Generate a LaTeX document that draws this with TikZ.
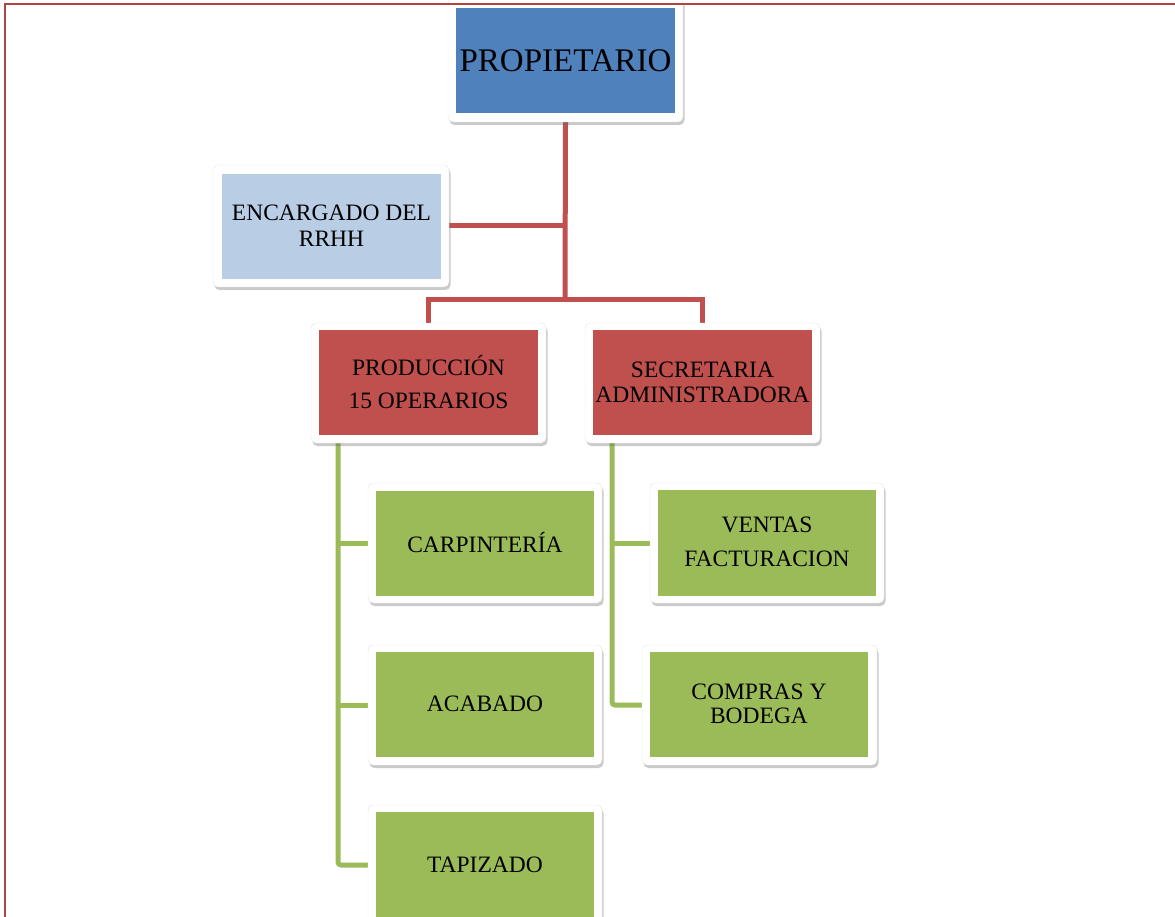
\documentclass[tikz,border=0pt]{standalone}
\usepackage{fontspec}
\setmainfont{Liberation Serif}
\usetikzlibrary{fit,shadows}
\definecolor{bluef}{RGB}{79,129,189}
\definecolor{lbluef}{RGB}{185,205,229}
\definecolor{redf}{RGB}{192,80,77}
\definecolor{greenf}{RGB}{155,187,89}
\definecolor{pageborder}{RGB}{176,68,68}
\tikzset{
  frame/.style={fill=white, draw=black!10, line width=0.4pt, rounded corners=5pt, inner sep=0pt,
    drop shadow={shadow xshift=1.5pt, shadow yshift=-3pt, opacity=0.35, fill=black!60}},
  inbox/.style={inner sep=0pt, draw=none},
  lbl/.style={align=center, text=black, inner sep=0pt},
  redline/.style={draw=redf, line width=5pt},
  greenline/.style={draw=greenf, line width=5pt}
}
\begin{document}
\begin{tikzpicture}[x=1pt,y=-1pt]
\useasboundingbox (0,0) rectangle (1175,917);
\clip (0,0) rectangle (1175,917);
% coordinates for connector routes
\coordinate (bar) at (565,300);
\coordinate (pl) at (338,0);
\coordinate (sl) at (612,0);
% invisible placeholders for node anchors (frames)
\path (448,-2) coordinate (propA) (683,122) coordinate (propB);
% connectors first (frames cover their ends)
\node[inner sep=0pt, fit={(propA)(propB)}] (prop) {};
\node[inner sep=0pt, fit={(213,165)(449,287)}] (enc) {};
\node[inner sep=0pt, fit={(311,323)(546,443)}] (prod) {};
\node[inner sep=0pt, fit={(585,323)(820,443)}] (sec) {};
\node[inner sep=0pt, fit={(368,483)(602,603)}] (carp) {};
\node[inner sep=0pt, fit={(368,645)(602,765)}] (acab) {};
\node[inner sep=0pt, fit={(368,805)(602,925)}] (tap) {};
\node[inner sep=0pt, fit={(650,483)(884,603)}] (vent) {};
\node[inner sep=0pt, fit={(642,645)(877,765)}] (comp) {};
% red connectors
\draw[redline] (prop.south) -- (bar);
\draw[redline] (enc.east) -- (enc.east -| prop.south);
\draw[redline] (prod.north) |- (bar) -| (sec.north);
% green connectors
\draw[greenline, rounded corners=3pt] (prod.south -| pl) |- (tap.west);
\draw[greenline] (carp.west -| pl) -- (carp.west);
\draw[greenline] (acab.west -| pl) -- (acab.west);
\draw[greenline, rounded corners=3pt] (sec.south -| sl) |- (comp.west);
\draw[greenline] (vent.west -| sl) -- (vent.west);
% frames
\node[frame, fit={(propA)(propB)}] (propF) {};
\node[frame, fit={(213,165)(449,287)}] (encF) {};
\node[frame, fit={(311,323)(546,443)}] (prodF) {};
\node[frame, fit={(585,323)(820,443)}] (secF) {};
\node[frame, fit={(368,483)(602,603)}] (carpF) {};
\node[frame, fit={(368,645)(602,765)}] (acabF) {};
\node[frame, fit={(368,805)(602,925)}] (tapF) {};
\node[frame, fit={(650,483)(884,603)}] (ventF) {};
\node[frame, fit={(642,645)(877,765)}] (compF) {};
% coloured inner fills
\node[inbox, fill=bluef, fit={(456,8)(675,113)}] (propI) {};
\node[inbox, fill=lbluef, fit={(222,174)(441,279)}] (encI) {};
\node[inbox, fill=redf, fit={(319,330)(538,435)}] (prodI) {};
\node[inbox, fill=redf, fit={(593,330)(812,435)}] (secI) {};
\node[inbox, fill=greenf, fit={(376,491)(594,596)}] (carpI) {};
\node[inbox, fill=greenf, fit={(376,652)(594,757)}] (acabI) {};
\node[inbox, fill=greenf, fit={(376,812)(594,925)}] (tapI) {};
\node[inbox, fill=greenf, fit={(658,490)(876,596)}] (ventI) {};
\node[inbox, fill=greenf, fit={(650,652)(868,757)}] (compI) {};
% labels
\node[lbl, font={\fontsize{33}{36}\selectfont}] (propT) at (565.5,61) {PROPIETARIO};
\node[lbl, font={\fontsize{23.5}{26}\selectfont}] (encT) at (331.5,226) {ENCARGADO DEL\\RRHH};
\node[lbl, font={\fontsize{23.5}{33}\selectfont}] (prodT) at (428.5,382.5) {PRODUCCIÓN\\15 OPERARIOS};
\node[lbl, font={\fontsize{23.5}{25}\selectfont}] (secT) at (702.5,382.5) {SECRETARIA\\ADMINISTRADORA};
\node[lbl, font={\fontsize{23.5}{26}\selectfont}] (carpT) at (485,543) {CARPINTERÍA};
\node[lbl, font={\fontsize{23.5}{26}\selectfont}] (acabT) at (485,704) {ACABADO};
\node[lbl, font={\fontsize{23.5}{26}\selectfont}] (tapT) at (485,865) {TAPIZADO};
\node[lbl, font={\fontsize{23.5}{34}\selectfont}] (ventT) at (767,541.5) {VENTAS\\FACTURACION};
\node[lbl, font={\fontsize{23.5}{23.5}\selectfont}] (compT) at (759,704) {COMPRAS Y\\BODEGA};
% page border
\draw[pageborder, line width=2pt] (5,920) -- (5,4) -- (1180,4);
\end{tikzpicture}
\end{document}
